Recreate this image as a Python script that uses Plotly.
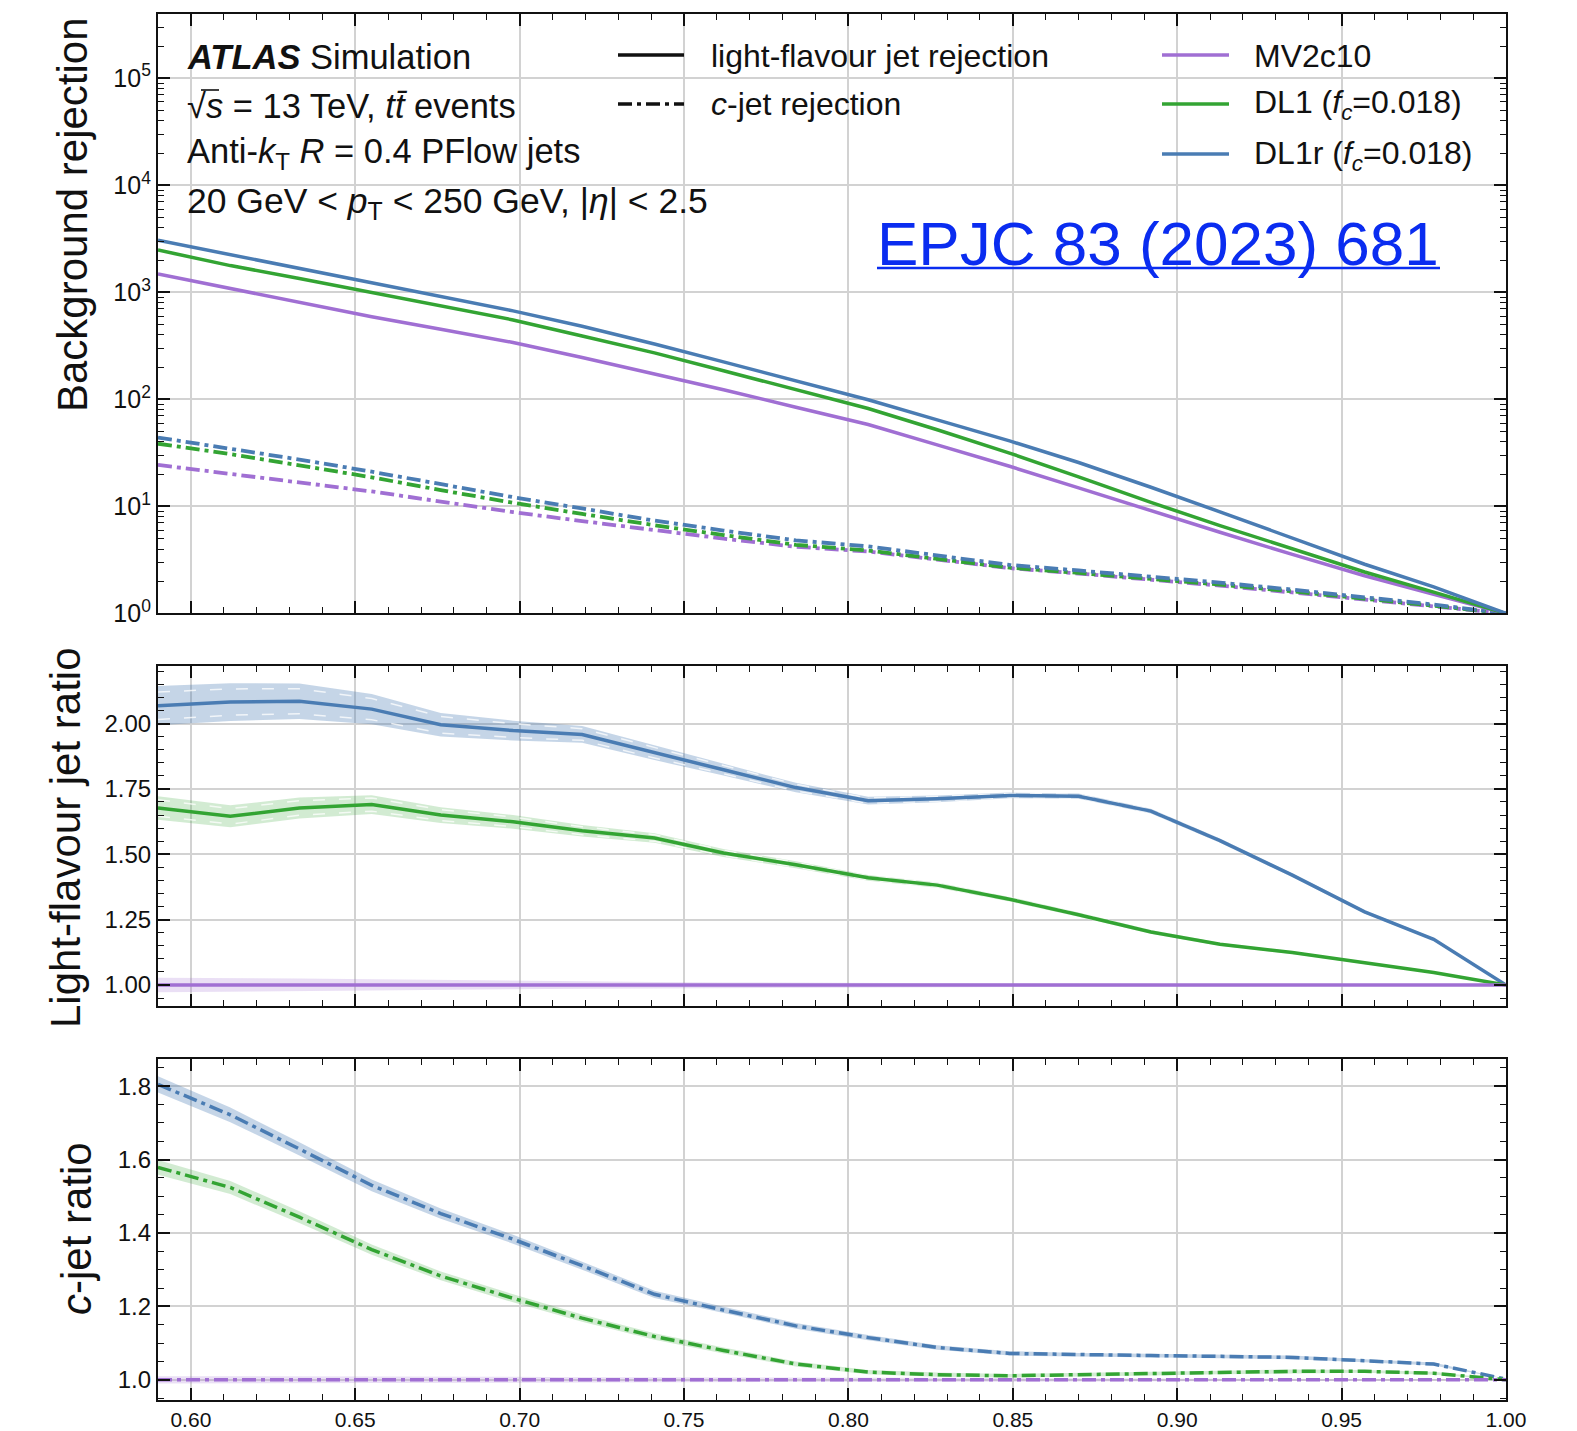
import plotly.graph_objects as go

# b-jet tagging efficiency working points
eff = [0.590, 0.612, 0.633, 0.655, 0.676, 0.698, 0.719, 0.741, 0.762, 0.784,
       0.806, 0.827, 0.849, 0.870, 0.892, 0.913, 0.935, 0.957, 0.978, 1.000]

# light-flavour jet rejection
light_mv2c10 = [1480, 1080, 803, 592, 451, 340, 246, 174, 123, 84.5,
                58.2, 37.6, 23.7, 14.9, 9.08, 5.73, 3.56, 2.25, 1.51, 1.0]
light_dl1 = [2482, 1777, 1347, 1000, 744, 552, 391, 272, 185, 123,
             82.1, 52.0, 31.5, 18.9, 10.9, 6.62, 4.00, 2.44, 1.58, 1.0]
light_dl1r = [3061, 2249, 1674, 1217, 900, 671, 482, 329, 224, 148,
              99.2, 64.4, 40.9, 25.7, 15.1, 8.89, 5.06, 2.88, 1.77, 1.0]

# c-jet rejection
c_mv2c10 = [24.4, 20.2, 16.8, 13.8, 11.1, 8.84, 7.29, 5.97, 5.00, 4.20,
            3.79, 3.19, 2.65, 2.36, 2.08, 1.82, 1.57, 1.35, 1.16, 1.0]
c_dl1 = [38.5, 30.8, 24.2, 18.7, 14.2, 10.8, 8.51, 6.67, 5.40, 4.38,
         3.87, 3.23, 2.68, 2.39, 2.12, 1.86, 1.61, 1.38, 1.18, 1.0]
c_dl1r = [44.0, 34.8, 27.4, 21.1, 16.1, 12.2, 9.56, 7.36, 5.95, 4.82,
          4.23, 3.47, 2.84, 2.52, 2.22, 1.94, 1.67, 1.42, 1.21, 1.0]

# light-flavour rejection relative to MV2c10, with uncertainty half-widths
lratio_mv2c10 = [1.00, 1.00, 1.00, 1.00, 1.00, 1.00, 1.00, 1.00, 1.00, 1.00,
                 1.00, 1.00, 1.00, 1.00, 1.00, 1.00, 1.00, 1.00, 1.00, 1.00]
lratio_dl1 = [1.677, 1.645, 1.677, 1.690, 1.650, 1.624, 1.590, 1.562, 1.505, 1.460,
              1.410, 1.382, 1.328, 1.269, 1.203, 1.156, 1.124, 1.084, 1.048, 1.000]
lratio_dl1r = [2.068, 2.082, 2.085, 2.055, 1.995, 1.973, 1.958, 1.888, 1.823, 1.755,
               1.705, 1.712, 1.725, 1.722, 1.665, 1.552, 1.420, 1.280, 1.175, 1.000]
lerr_mv2c10 = [0.028, 0.027, 0.025, 0.022, 0.019, 0.016, 0.014, 0.012, 0.010, 0.009,
               0.008, 0.007, 0.006, 0.005, 0.005, 0.004, 0.004, 0.003, 0.002, 0.0]
lerr_dl1 = [0.045, 0.042, 0.040, 0.036, 0.030, 0.026, 0.022, 0.018, 0.015, 0.013,
            0.011, 0.010, 0.009, 0.008, 0.007, 0.006, 0.005, 0.004, 0.003, 0.0]
lerr_dl1r = [0.075, 0.072, 0.068, 0.058, 0.045, 0.038, 0.032, 0.028, 0.022, 0.018,
             0.015, 0.013, 0.011, 0.010, 0.009, 0.008, 0.007, 0.006, 0.005, 0.0]

# c-jet rejection relative to MV2c10, with uncertainty half-widths
cratio_mv2c10 = [1.00, 1.00, 1.00, 1.00, 1.00, 1.00, 1.00, 1.00, 1.00, 1.00,
                 1.00, 1.00, 1.00, 1.00, 1.00, 1.00, 1.00, 1.00, 1.00, 1.00]
cratio_dl1 = [1.579, 1.524, 1.443, 1.355, 1.283, 1.222, 1.168, 1.118, 1.080, 1.043,
              1.021, 1.014, 1.011, 1.013, 1.017, 1.020, 1.023, 1.023, 1.018, 1.000]
cratio_dl1r = [1.805, 1.722, 1.629, 1.530, 1.453, 1.383, 1.311, 1.233, 1.190, 1.147,
               1.115, 1.088, 1.072, 1.068, 1.066, 1.064, 1.061, 1.052, 1.043, 1.002]
cerr_mv2c10 = [0.010, 0.010, 0.009, 0.009, 0.008, 0.008, 0.007, 0.007, 0.006, 0.006,
               0.005, 0.005, 0.005, 0.004, 0.004, 0.004, 0.003, 0.003, 0.002, 0.0]
cerr_dl1 = [0.020, 0.018, 0.016, 0.014, 0.012, 0.011, 0.010, 0.009, 0.008, 0.007,
            0.006, 0.006, 0.005, 0.005, 0.005, 0.005, 0.005, 0.004, 0.004, 0.0]
cerr_dl1r = [0.022, 0.020, 0.018, 0.016, 0.014, 0.012, 0.011, 0.010, 0.009, 0.008,
             0.007, 0.006, 0.006, 0.005, 0.005, 0.005, 0.005, 0.004, 0.004, 0.0]

taggers = ["MV2c10", "DL1 (<i>f<sub>c</sub></i>=0.018)", "DL1r (<i>f<sub>c</sub></i>=0.018)"]
colors = ["#a06fd3", "#33a433", "#4a7cb3"]
bands = ["rgba(160,111,211,0.22)", "rgba(51,164,51,0.22)", "rgba(74,124,179,0.32)"]

FONT = "Liberation Sans, Arial, Helvetica, sans-serif"
W, H = 1577, 1431
ML, MR, MT, MB = 158, 71, 14, 31
PW, PH = W - ML - MR, H - MT - MB

DASHDOT = "14px,5px,4px,5px"


def px(x):
    return (x - ML) / PW


def py(y):
    return (H - MB - y) / PH


fig = go.Figure()

light = [light_mv2c10, light_dl1, light_dl1r]
crej = [c_mv2c10, c_dl1, c_dl1r]
lratio = [lratio_mv2c10, lratio_dl1, lratio_dl1r]
lerr = [lerr_mv2c10, lerr_dl1, lerr_dl1r]
cratio = [cratio_mv2c10, cratio_dl1, cratio_dl1r]
cerr = [cerr_mv2c10, cerr_dl1, cerr_dl1r]

# top panel: rejection curves
for name, col, cr in zip(taggers, colors, crej):
    fig.add_trace(go.Scatter(x=eff, y=cr, mode="lines", name=name, showlegend=False,
                             line=dict(color=col, width=3.8, dash=DASHDOT),
                             xaxis="x", yaxis="y"))
for name, col, lr in zip(taggers, colors, light):
    fig.add_trace(go.Scatter(x=eff, y=lr, mode="lines", name=name, showlegend=False,
                             line=dict(color=col, width=3.5),
                             xaxis="x", yaxis="y"))


def ratio_panel(vals, errs, dash, ax, ay, guides):
    order = [2, 1, 0]
    for i in order:
        up = [v + e for v, e in zip(vals[i], errs[i])]
        lo = [v - e for v, e in zip(vals[i], errs[i])]
        fig.add_trace(go.Scatter(x=eff + eff[::-1], y=up + lo[::-1], fill="toself",
                                 fillcolor=bands[i], line=dict(width=0),
                                 mode="lines", showlegend=False, hoverinfo="skip",
                                 xaxis=ax, yaxis=ay))
        if guides and i > 0:
            for s in (0.7, -0.7):
                g = [v + s * e for v, e in zip(vals[i], errs[i])]
                fig.add_trace(go.Scatter(x=eff, y=g, mode="lines", showlegend=False,
                                         hoverinfo="skip",
                                         line=dict(color="rgba(255,255,255,0.75)", width=1.5,
                                                   dash="12px,14px"),
                                         xaxis=ax, yaxis=ay))
    for i in order:
        fig.add_trace(go.Scatter(x=eff, y=vals[i], mode="lines", showlegend=False,
                                 line=dict(color=colors[i], width=3.5, dash=dash),
                                 xaxis=ax, yaxis=ay))


ratio_panel(lratio, lerr, "solid", "x2", "y2", True)
ratio_panel(cratio, cerr, DASHDOT, "x3", "y3", False)

axis_common = dict(
    showline=True, linecolor="#111111", linewidth=2.2, mirror="ticks",
    ticks="inside", ticklen=12, tickwidth=1.6, tickcolor="#111111",
    gridcolor="#d2d2d2", zeroline=False, automargin=False,
    tickfont=dict(family=FONT, size=24, color="#111111"),
)

xcommon = dict(axis_common, range=[0.59, 1.0], dtick=0.05, tick0=0.6, gridwidth=1.6,
               minor=dict(ticks="inside", ticklen=6, tickwidth=1.3, tickcolor="#111111",
                          dtick=0.01, tick0=0.6, showgrid=False),
               tickformat=".2f")

decades = [1, 10, 100, 1000, 10000, 100000]
dec_text = ["10<sup>%d</sup>" % k for k in range(6)]
log_minor = [d * 10 ** k for k in range(6) for d in range(2, 10)]

fig.update_layout(
    width=W, height=H,
    margin=dict(l=ML, r=MR, t=MT, b=MB, autoexpand=False),
    paper_bgcolor="white", plot_bgcolor="white",
    font=dict(family=FONT, color="#111111"),
    showlegend=False,
    xaxis=dict(xcommon, domain=[0, 1], anchor="y", showticklabels=False),
    xaxis2=dict(xcommon, domain=[0, 1], anchor="y2", showticklabels=False, matches="x"),
    xaxis3=dict(xcommon, domain=[0, 1], anchor="y3", matches="x",
                tickfont=dict(family=FONT, size=21, color="#111111")),
    yaxis=dict(axis_common, type="log", domain=[0.5675, 1.0], anchor="x",
               range=[0, 5.6], tickmode="array", tickvals=decades, ticktext=dec_text,
               gridwidth=2.2, tickfont=dict(family=FONT, size=25, color="#111111"),
               minor=dict(ticks="inside", ticklen=6, tickwidth=1.3, tickcolor="#111111",
                          tickmode="array", tickvals=log_minor, showgrid=False)),
    yaxis2=dict(axis_common, domain=[0.2843, 0.5296], anchor="x2",
                range=[0.92, 2.22], dtick=0.25, tick0=1.0, tickformat=".2f", gridwidth=2.2,
                minor=dict(ticks="inside", ticklen=6, tickwidth=1.3, tickcolor="#111111",
                           dtick=0.05, tick0=1.0, showgrid=False)),
    yaxis3=dict(axis_common, domain=[0.0, 0.246], anchor="x3",
                range=[0.945, 1.874], dtick=0.2, tick0=1.0, tickformat=".1f", gridwidth=2.2,
                minor=dict(ticks="inside", ticklen=6, tickwidth=1.3, tickcolor="#111111",
                           dtick=0.05, tick0=1.0, showgrid=False)),
)

annotations = []
shapes = []


def label(text, x, y, size, anchor="left", color="#111111", angle=0):
    annotations.append(dict(text=text, x=px(x), y=py(y), xref="paper", yref="paper",
                            xanchor=anchor, yanchor="middle", showarrow=False,
                            textangle=angle,
                            font=dict(family=FONT, size=size, color=color)))


# axis titles
label("Background rejection", 72, 215, 42, anchor="center", angle=-90)
label("Light-flavour jet ratio", 66, 838, 42, anchor="center", angle=-90)
label("<i>c</i>-jet ratio", 76, 1229, 42, anchor="center", angle=-90)

# sample description
label("<b><i>ATLAS</i></b> Simulation", 185, 57, 34.5)
label("\u221a<i>s</i> = 13 TeV, <i>tt\u0304</i> events", 185, 106, 34.5)
label("Anti-<i>k</i><sub>T</sub> <i>R</i> = 0.4 PFlow jets", 185, 154, 34.5)
label("20 GeV &lt; <i>p</i><sub>T</sub> &lt; 250 GeV, |<i>\u03b7</i>| &lt; 2.5", 185, 203, 35.5)

# overbar on the radical
shapes.append(dict(type="line", xref="paper", yref="paper",
                   x0=px(201), x1=px(219), y0=py(90), y1=py(90),
                   line=dict(color="#111111", width=1.6)))

# line-style key
label("light-flavour jet rejection", 709, 56, 32)
label("<i>c</i>-jet rejection", 709, 104, 32)
shapes.append(dict(type="line", xref="paper", yref="paper",
                   x0=px(618), x1=px(684), y0=py(55), y1=py(55),
                   line=dict(color="#111111", width=3.5)))
shapes.append(dict(type="line", xref="paper", yref="paper",
                   x0=px(618), x1=px(684), y0=py(104), y1=py(104),
                   line=dict(color="#111111", width=3.5, dash=DASHDOT)))

# tagger key
for i, (name, col) in enumerate(zip(taggers, colors)):
    yy = [55, 104, 154][i]
    shapes.append(dict(type="line", xref="paper", yref="paper",
                       x0=px(1162), x1=px(1229), y0=py(yy), y1=py(yy),
                       line=dict(color=col, width=3.5)))
    label(name, 1252, yy + 1, 32)

# publication reference
label("EPJC 83 (2023) 681", 1158, 243, 62, anchor="center", color="#0a2cf0")
shapes.append(dict(type="line", xref="paper", yref="paper",
                   x0=px(877), x1=px(1440), y0=py(268), y1=py(268),
                   line=dict(color="#0a2cf0", width=2.5)))

fig.update_layout(annotations=annotations, shapes=shapes)

fig.write_html("out.html")
